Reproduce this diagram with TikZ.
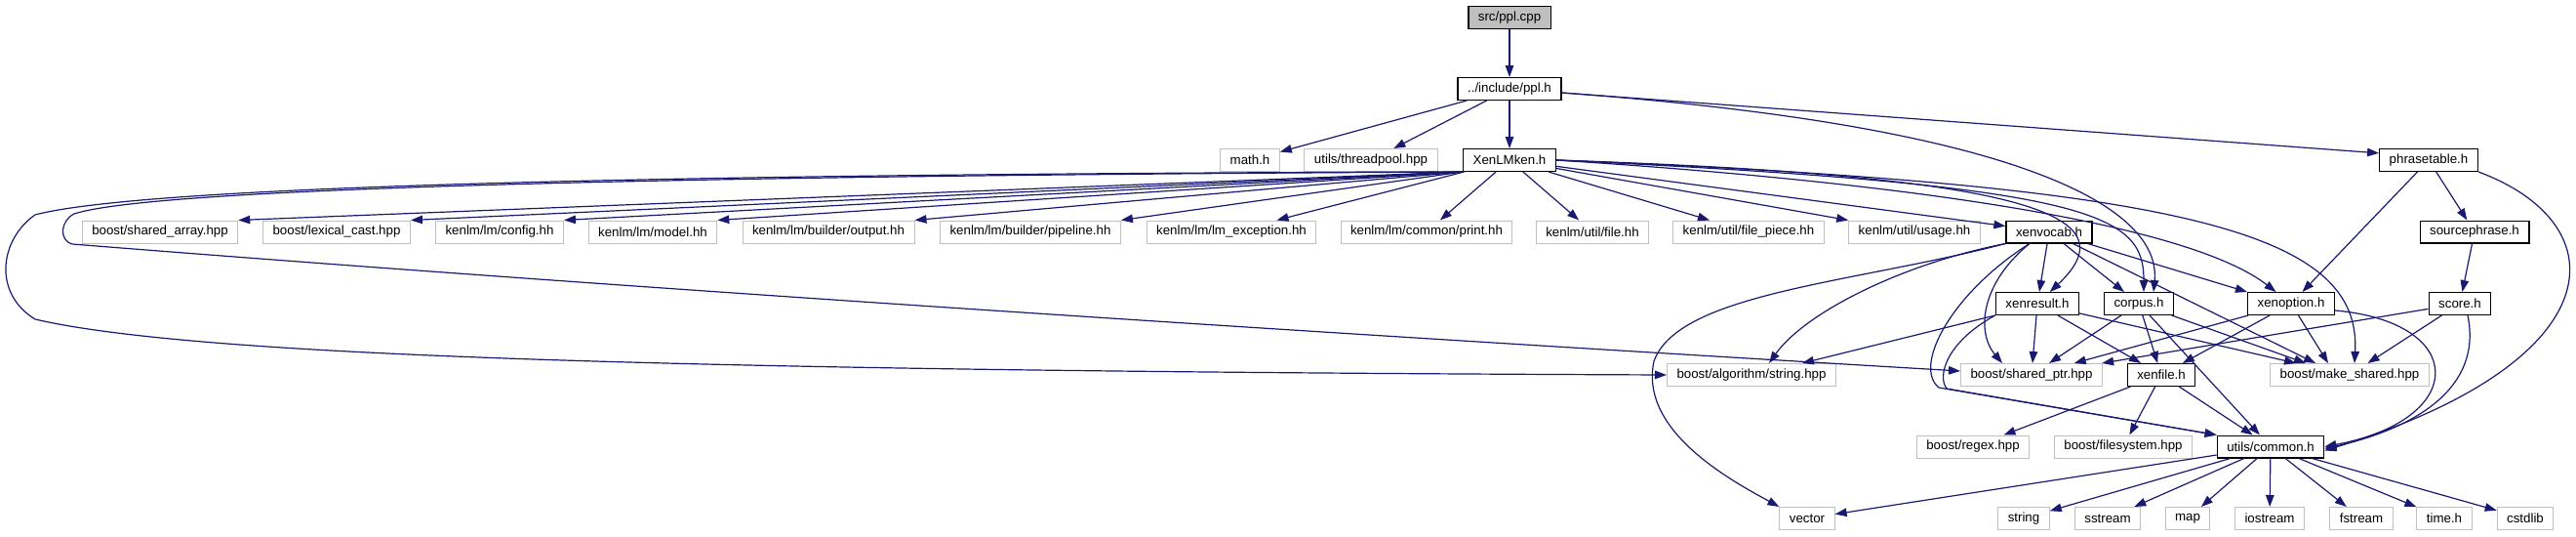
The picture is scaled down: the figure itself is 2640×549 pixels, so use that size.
\documentclass[tikz,border=0pt]{standalone}
\usepackage{fontspec}
\setmainfont{Liberation Sans}
\usepackage{tikz}
\usetikzlibrary{arrows.meta}
\definecolor{edgeblue}{HTML}{191970}
\definecolor{rootgray}{HTML}{BFBFBF}
\definecolor{extgray}{HTML}{BFBFBF}
\newcommand\hdrfont{\fontsize{13.3}{16}\selectfont}
\tikzset{
  >={Triangle[length=12pt,width=8.5pt]},
  hdr/.style={draw=black, line width=1.3pt, fill=white, font=\hdrfont, inner xsep=10pt, inner ysep=0pt, minimum height=22.7pt},
  rootnode/.style={hdr, fill=rootgray},
  ext/.style={hdr, draw=extgray, line width=1pt, minimum height=23pt},
  incl/.style={->, line width=1.2pt, color=edgeblue}
}
\begin{document}
\begin{tikzpicture}[x=1pt,y=-1pt]
  \useasboundingbox (0,0) rectangle (2640,549);
  \node[rootnode] (pplcpp) at (1547,18) {src/ppl.cpp};
  \node[hdr] (pplh) at (1547,91) {../include/ppl.h};
  \node[ext] (mathh) at (1281,164) {math.h};
  \node[ext] (threadpool) at (1405,164) {utils/threadpool.hpp};
  \node[hdr] (xenlm) at (1547,164) {XenLMken.h};
  \node[hdr] (phrasetable) at (2489,164) {phrasetable.h};
  \node[ext] (sharedarray) at (164,237.5) {boost/shared\_array.hpp};
  \node[ext] (lexicalcast) at (345,237.5) {boost/lexical\_cast.hpp};
  \node[ext] (lmconfig) at (512,237.5) {kenlm/lm/config.hh};
  \node[ext] (lmmodel) at (669,237.5) {kenlm/lm/model.hh};
  \node[ext] (bldoutput) at (849,237.5) {kenlm/lm/builder/output.hh};
  \node[ext] (bldpipeline) at (1056,237.5) {kenlm/lm/builder/pipeline.hh};
  \node[ext] (lmexception) at (1262,237.5) {kenlm/lm/lm\_exception.hh};
  \node[ext] (cmnprint) at (1462,237.5) {kenlm/lm/common/print.hh};
  \node[ext] (utilfile) at (1632,237.5) {kenlm/util/file.hh};
  \node[ext] (filepiece) at (1792,237.5) {kenlm/util/file\_piece.hh};
  \node[ext] (usage) at (1962,237.5) {kenlm/util/usage.hh};
  \node[hdr] (xenvocab) at (2100,237.5) {xenvocab.h};
  \node[hdr] (sourcephrase) at (2536,237.5) {sourcephrase.h};
  \node[hdr] (xenresult) at (2088,311) {xenresult.h};
  \node[hdr] (corpus) at (2192,311) {corpus.h};
  \node[hdr] (xenoption) at (2348,311) {xenoption.h};
  \node[hdr] (score) at (2521,311) {score.h};
  \node[ext] (algstring) at (1795,384) {boost/algorithm/string.hpp};
  \node[ext] (sharedptr) at (2082,384) {boost/shared\_ptr.hpp};
  \node[hdr] (xenfile) at (2215,384) {xenfile.h};
  \node[ext] (makeshared) at (2408,384) {boost/make\_shared.hpp};
  \node[ext] (regex) at (2022,457.5) {boost/regex.hpp};
  \node[ext] (filesystem) at (2176,457.5) {boost/filesystem.hpp};
  \node[hdr] (common) at (2327,457.5) {utils/common.h};
  \node[ext] (vector) at (1852,531) {vector};
  \node[ext] (string) at (2074,531) {string};
  \node[ext] (sstream) at (2160,531) {sstream};
  \node[ext] (map) at (2242,531) {map};
  \node[ext] (iostream) at (2326,531) {iostream};
  \node[ext] (fstream) at (2420,531) {fstream};
  \node[ext] (timeh) at (2505,531) {time.h};
  \node[ext] (cstdlib) at (2588,531) {cstdlib};

  \draw[incl] (pplcpp) -- (pplh);
  \draw[incl] (pplh) -- (mathh);
  \draw[incl] (pplh) -- (threadpool);
  \draw[incl] (pplh) -- (xenlm);
  \draw[incl] ([yshift=-4pt]pplh.east) -- (phrasetable.172);
  \draw[incl] ([yshift=-4pt]pplh.east) .. controls (2080,130) and (2215,215) .. ([xshift=15pt]corpus.north);

  \draw[incl] (xenlm.south west) -- (sharedarray.north east);
  \draw[incl] (xenlm.south west) -- (lexicalcast.north east);
  \draw[incl] (xenlm.south west) -- (lmconfig.north east);
  \draw[incl] (xenlm.south west) -- (lmmodel.north east);
  \draw[incl] (xenlm.south west) -- (bldoutput.north east);
  \draw[incl] (xenlm.south west) -- (bldpipeline.north east);
  \draw[incl] (xenlm) -- (lmexception);
  \draw[incl] (xenlm) -- (cmnprint);
  \draw[incl] (xenlm) -- (utilfile);
  \draw[incl] (xenlm) -- (filepiece);
  \draw[incl] (xenlm) -- (usage);
  \draw[incl] (xenlm) -- (xenvocab);
  \draw[incl] (xenlm.east) .. controls (2080,180) and (2185,220) .. (xenresult);
  \draw[incl] (xenlm.east) .. controls (2150,190) and (2197,220) .. ([xshift=5pt]corpus.north);
  \draw[incl] (xenlm.east) .. controls (2000,190) and (2250,235) .. (xenoption);
  \draw[incl] (xenlm.east) .. controls (2250,190) and (2420,240) .. ([xshift=5pt]makeshared.north);
  \draw[incl] (xenlm.south west) .. controls (700,178) and (150,190) .. (36,220)
    .. controls (0,245) and (-8,300) .. (36,327)
    .. controls (200,365) and (700,380) .. (algstring.west);
  \draw[incl] (xenlm.south west) .. controls (700,180) and (160,192) .. (76,219)
    .. controls (62,226) and (60,246) .. (74,250)
    .. controls (700,300) and (1500,350) .. ([yshift=4pt]sharedptr.west);

  \draw[incl] (phrasetable) -- (xenoption);
  \draw[incl] (phrasetable) -- (sourcephrase);
  \draw[incl] (phrasetable.south east) .. controls (2685,230) and (2680,370) .. ([yshift=-4pt]common.east);
  \draw[incl] (sourcephrase) -- (score);

  \draw[incl] (xenvocab) -- (xenresult);
  \draw[incl] (xenvocab) -- (corpus);
  \draw[incl] (xenvocab) -- (xenoption.north west);
  \draw[incl] (xenvocab) -- ([xshift=-35pt]makeshared.north);
  \draw[incl] ([xshift=-20pt]xenvocab.south) .. controls (2030,290) and (2025,340) .. ([xshift=-30pt]sharedptr.north);
  \draw[incl] (xenvocab.south west) .. controls (1950,270) and (1850,320) .. ([xshift=18pt]algstring.north);
  \draw[incl] (xenvocab.south west) .. controls (1900,290) and (1720,300) .. (1695,370)
    .. controls (1680,440) and (1770,490) .. (vector.north west);
  \draw[incl] ([xshift=-20pt]xenvocab.south) .. controls (2000,300) and (1960,375) .. (1987,397) -- (common.north west);

  \draw[incl] (xenresult.south west) -- ([xshift=52pt]algstring.north);
  \draw[incl] (xenresult) -- (sharedptr);
  \draw[incl] (xenresult) -- (xenfile);
  \draw[incl] (xenresult) -- ([xshift=-55pt]makeshared.north);
  \draw[incl] (xenresult.south west) .. controls (1995,350) and (1985,385) .. (1995,398) -- (common.north west);

  \draw[incl] (corpus) -- (sharedptr);
  \draw[incl] (corpus) -- (xenfile);
  \draw[incl] (corpus) -- ([xshift=-45pt]makeshared.north);
  \draw[incl] (corpus) -- (common);

  \draw[incl] (xenoption) -- (sharedptr);
  \draw[incl] (xenoption) -- (xenfile);
  \draw[incl] (xenoption) -- ([xshift=-22pt]makeshared.north);
  \draw[incl] ([yshift=-7pt]xenoption.east) .. controls (2530,330) and (2530,430) .. (common.east);

  \draw[incl] (score) -- (sharedptr);
  \draw[incl] (score) -- (makeshared);
  \draw[incl] ([xshift=8pt]score.south) .. controls (2545,400) and (2470,440) .. ([yshift=-2pt]common.east);

  \draw[incl] (xenfile) -- (regex);
  \draw[incl] (xenfile) -- (filesystem);
  \draw[incl] (xenfile) -- (common);

  \draw[incl] (common) -- (vector);
  \draw[incl] (common) -- (string);
  \draw[incl] (common) -- (sstream);
  \draw[incl] (common) -- (map);
  \draw[incl] (common) -- (iostream);
  \draw[incl] (common) -- (fstream);
  \draw[incl] (common) -- (timeh);
  \draw[incl] (common) -- (cstdlib);
\end{tikzpicture}
\end{document}
